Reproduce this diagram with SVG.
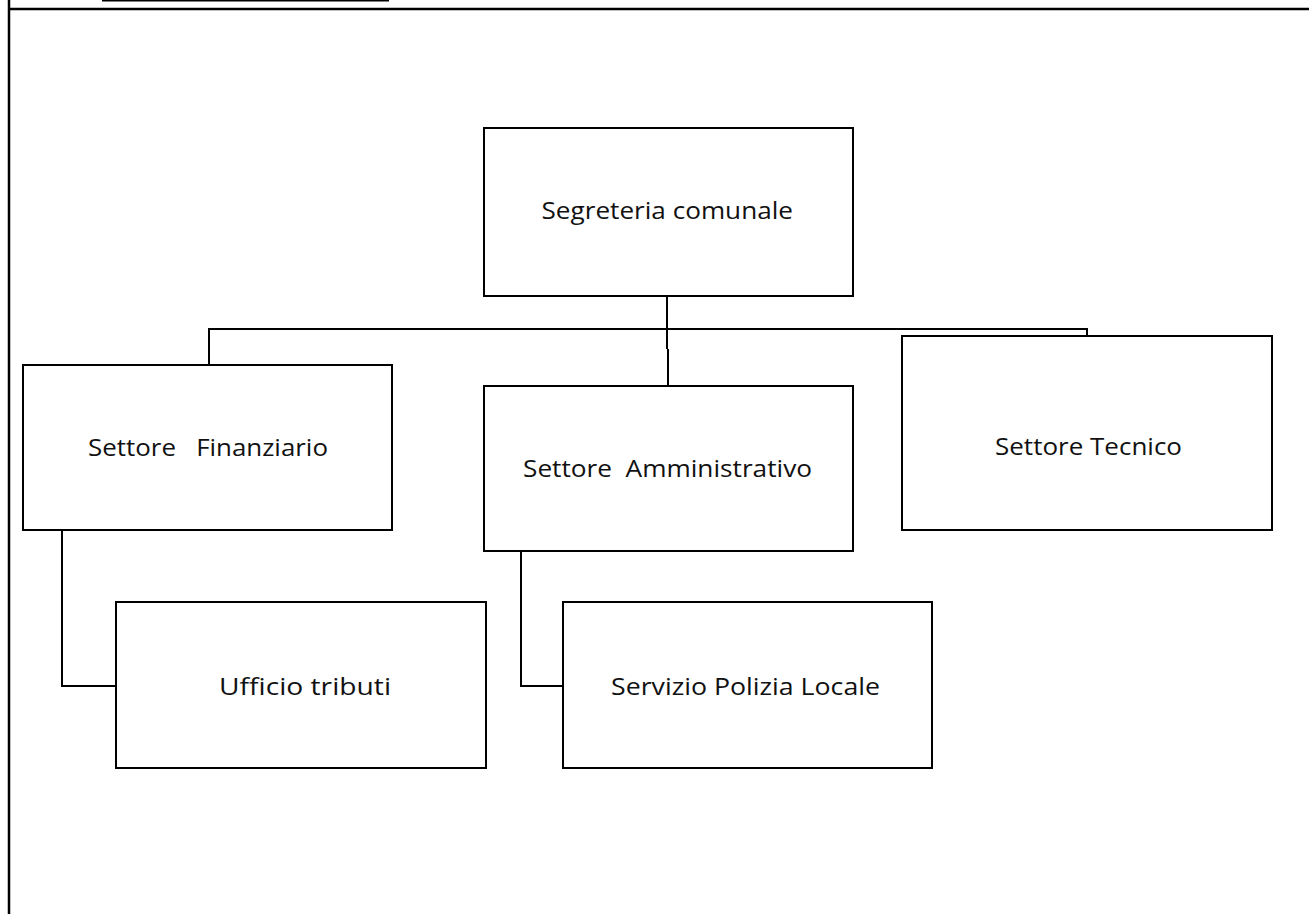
<svg xmlns="http://www.w3.org/2000/svg" width="1309" height="914" viewBox="0 0 1309 914">
<style>
.box{fill:#fff;stroke:#000;stroke-width:2}
.conn{fill:none;stroke:#000;stroke-width:2}
.frame{fill:none;stroke:#000;stroke-width:2.5}
.lbl{font-family:"Open Sans","Liberation Sans",sans-serif;font-size:24px;fill:#111;white-space:pre}
</style>
<rect width="1309" height="914" fill="#fff"/>
<g id="frame">
<line class="conn" x1="102" y1="0.5" x2="389" y2="0.5" stroke-width="1.5"/>
<line class="frame" x1="9" y1="0" x2="9" y2="914"/>
<line class="frame" x1="8" y1="9" x2="1309" y2="9"/>
</g>
<g id="connectors">
<polyline class="conn" points="209,365 209,329 1087,329 1087,336"/>
<line class="conn" x1="667" y1="296" x2="667" y2="349" stroke-width="3"/>
<line class="conn" x1="668" y1="349" x2="668" y2="386"/>
<polyline class="conn" points="62,530 62,686 116,686"/>
<polyline class="conn" points="521,551 521,686 563,686"/>
</g>
<g id="segreteria">
<rect class="box" x="484" y="128" width="369" height="168"/>
<text class="lbl" x="541.5" y="219" textLength="251.5" lengthAdjust="spacingAndGlyphs">Segreteria comunale</text>
</g>
<g id="finanziario">
<rect class="box" x="23" y="365" width="369" height="165"/>
<text class="lbl" x="88" y="456" textLength="240" lengthAdjust="spacingAndGlyphs">Settore   Finanziario</text>
</g>
<g id="amministrativo">
<rect class="box" x="484" y="386" width="369" height="165"/>
<text class="lbl" x="523" y="477" textLength="289" lengthAdjust="spacingAndGlyphs">Settore  Amministrativo</text>
</g>
<g id="tecnico">
<rect class="box" x="902" y="336" width="370" height="194"/>
<text class="lbl" x="995" y="455" textLength="187" lengthAdjust="spacingAndGlyphs">Settore Tecnico</text>
</g>
<g id="tributi">
<rect class="box" x="116" y="602" width="370" height="166"/>
<text class="lbl" x="219" y="695" textLength="172" lengthAdjust="spacingAndGlyphs">Ufficio tributi</text>
</g>
<g id="polizia">
<rect class="box" x="563" y="602" width="369" height="166"/>
<text class="lbl" x="611" y="695" textLength="269" lengthAdjust="spacingAndGlyphs">Servizio Polizia Locale</text>
</g>
</svg>
